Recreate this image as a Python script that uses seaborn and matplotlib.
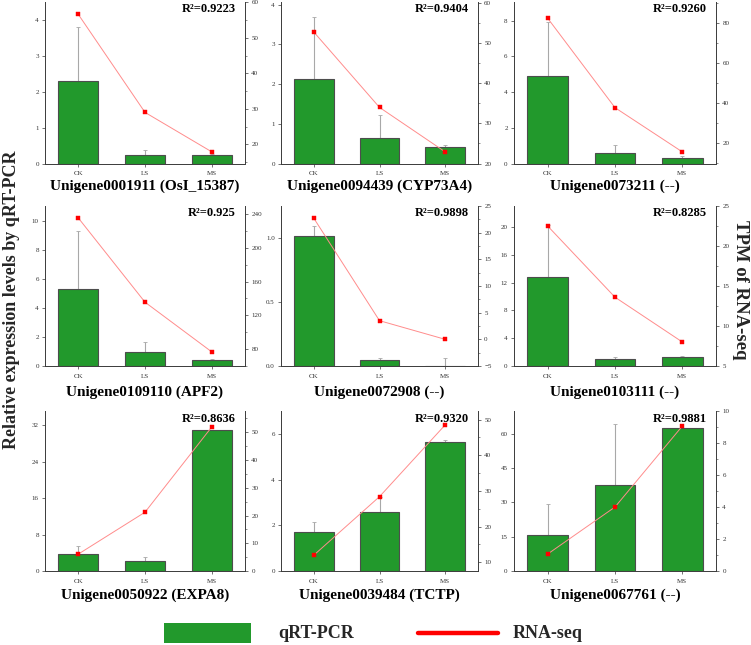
import numpy as np
import pandas as pd
import matplotlib
matplotlib.use("Agg")
import matplotlib.pyplot as plt
import seaborn as sns
from matplotlib.ticker import MultipleLocator, AutoMinorLocator
from matplotlib.patches import Rectangle
from matplotlib.lines import Line2D

# ---------------- data ----------------
groups = ["CK", "LS", "MS"]
genes = ["Unigene0001911 (OsI_15387)", "Unigene0094439 (CYP73A4)", "Unigene0073211 (--)",
         "Unigene0109110 (APF2)", "Unigene0072908 (--)", "Unigene0103111 (--)",
         "Unigene0050922 (EXPA8)", "Unigene0039484 (TCTP)", "Unigene0067761 (--)"]
r2_labels = ["R²=0.9223", "R²=0.9404", "R²=0.9260",
             "R²=0.925", "R²=0.9898", "R²=0.8285",
             "R²=0.8636", "R²=0.9320", "R²=0.9881"]
qpcr_mean = [[2.31, 0.25, 0.25], [2.13, 0.65, 0.42], [4.92, 0.60, 0.32],
             [5.30, 0.96, 0.43], [1.01, 0.05, 0.0], [12.8, 0.96, 1.34],
             [3.7, 2.2, 31.0], [1.72, 2.57, 5.64], [15.6, 37.5, 62.5]]
qpcr_sd = [[1.48, 0.12, 0.01], [1.55, 0.57, 0.05], [3.02, 0.41, 0.09],
           [3.95, 0.67, 0.04], [0.08, 0.01, 0.06], [7.5, 0.28, 0.14],
           [1.8, 0.8, 0.0], [0.41, 0.68, 0.09], [13.6, 26.7, 0.0]]
tpm = [[56.6, 29.0, 17.9], [52.8, 34.0, 22.9], [82.5, 37.8, 15.7],
       [235.3, 135.6, 76.8], [22.7, 3.5, 0.0], [22.5, 13.6, 8.0],
       [6.1, 21.2, 51.9], [12.0, 28.4, 48.5], [1.06, 4.0, 9.06]]

# ---------------- layout / style ----------------
W, H = 751, 645
col_x = [(45, 245), (281, 478), (514, 716)]
row_y = [(2, 163.5), (206, 366), (411, 571)]
title_y = [186, 392, 595]
left_lim = [(0, 4.5), (0, 4.07), (0, 9.05), (0, 11.0), (0, 1.247), (0, 23.0),
            (0, 35.1), (0, 7.0), (0, 70.0)]
right_lim = [(14.6, 60.1), (20, 60.3), (9.9, 90.6), (60, 249.5), (-5, 25), (5, 25),
             (0, 57.7), (7.56, 52.4), (0, 10)]
left_step = [1, 1, 2, 2, 0.5, 4, 8, 2, 15]
right_step = [10, 10, 20, 40, 5, 5, 10, 10, 2]

GREEN = "#22992C"
EDGE = "#4d4d4d"
LINE = "#ff8c8c"
RED = "#ff0000"
SPINE = "#3a3a3a"

sns.set_theme(style="ticks")
plt.rcParams["font.family"] = ["Liberation Serif", "DejaVu Serif"]

fig = plt.figure(figsize=(W / 100, H / 100), dpi=100)

def fx(x):
    return x / W

def fy(y):
    return 1 - y / H

for i in range(9):
    r, c = divmod(i, 3)
    x0, x1 = col_x[c]
    y0, y1 = row_y[r]
    ax = fig.add_axes([fx(x0), fy(y1), (x1 - x0) / W, (y1 - y0) / H])
    df = pd.DataFrame({"group": groups, "qpcr": qpcr_mean[i], "sd": qpcr_sd[i], "tpm": tpm[i]})
    sns.barplot(data=df, x="group", y="qpcr", ax=ax, color=GREEN, saturation=1,
                width=0.6, edgecolor=EDGE, linewidth=0.8, errorbar=None, zorder=2)
    xs = np.arange(len(groups))
    ax.errorbar(xs, df["qpcr"], yerr=[np.zeros(len(groups)), df["sd"]], fmt="none",
                ecolor="#a8a8a8", elinewidth=0.8, capsize=1.5, capthick=0.6, zorder=1)
    ax.set_xlim(-0.5, 2.5)
    ax.set_ylim(*left_lim[i])
    ax.yaxis.set_major_locator(MultipleLocator(left_step[i]))
    ax.set_xlabel("")
    ax.set_ylabel("")

    ax2 = ax.twinx()
    df["pos"] = xs
    sns.lineplot(data=df, x="pos", y="tpm", ax=ax2, color=LINE, linewidth=0.7,
                 marker="s", markersize=3.2, markerfacecolor=RED, markeredgecolor=RED,
                 markeredgewidth=0.3, zorder=3)
    ax2.set_ylim(*right_lim[i])
    ax2.yaxis.set_major_locator(MultipleLocator(right_step[i]))
    ax2.yaxis.set_minor_locator(AutoMinorLocator(2))
    ax2.set_xlim(-0.5, 2.5)
    ax2.set_xlabel("")
    ax2.set_ylabel("")

    for a in (ax, ax2):
        a.spines["top"].set_visible(False)
        for s in ("left", "right", "bottom"):
            a.spines[s].set_color(SPINE)
            a.spines[s].set_linewidth(0.7)
        a.tick_params(axis="both", which="major", direction="out", length=2.5, width=0.5,
                      color=SPINE, labelsize=5, labelcolor="#333333", pad=2)
        a.tick_params(axis="both", which="minor", direction="out", length=1.4, width=0.4,
                      color=SPINE)
    ax.tick_params(axis="x", pad=3)
    ax.spines["right"].set_visible(False)
    ax2.spines["left"].set_visible(False)
    ax2.spines["bottom"].set_visible(False)

    fig.text(fx((x0 + x1) / 2), fy(title_y[r]), genes[i], ha="center", va="center",
             fontsize=11, fontweight="bold", color="black")
    fig.text(fx(x1 - 9), fy(y0 + 7.5), r2_labels[i], ha="right", va="center",
             fontsize=9, fontweight="bold", color="black")

# axis titles
fig.text(fx(12), fy(300), "Relative expression levels by qRT-PCR", rotation=90,
         ha="center", va="center", fontsize=13, fontweight="bold")
fig.text(fx(741), fy(290), "TPM of RNA-seq", rotation=-90,
         ha="center", va="center", fontsize=13.5, fontweight="bold")

# legend
fig.add_artist(Rectangle((fx(164), fy(643)), 87 / W, 20 / H, transform=fig.transFigure,
                         facecolor=GREEN, edgecolor="none"))
fig.text(fx(278), fy(633), "qRT-PCR", ha="left", va="center", fontsize=13, fontweight="bold")
fig.add_artist(Line2D([fx(418), fx(498)], [fy(633), fy(633)], transform=fig.transFigure,
                      color=RED, linewidth=3.2))
fig.text(fx(513), fy(633), "RNA-seq", ha="left", va="center", fontsize=13, fontweight="bold")

fig.savefig("out.png", dpi=100)
